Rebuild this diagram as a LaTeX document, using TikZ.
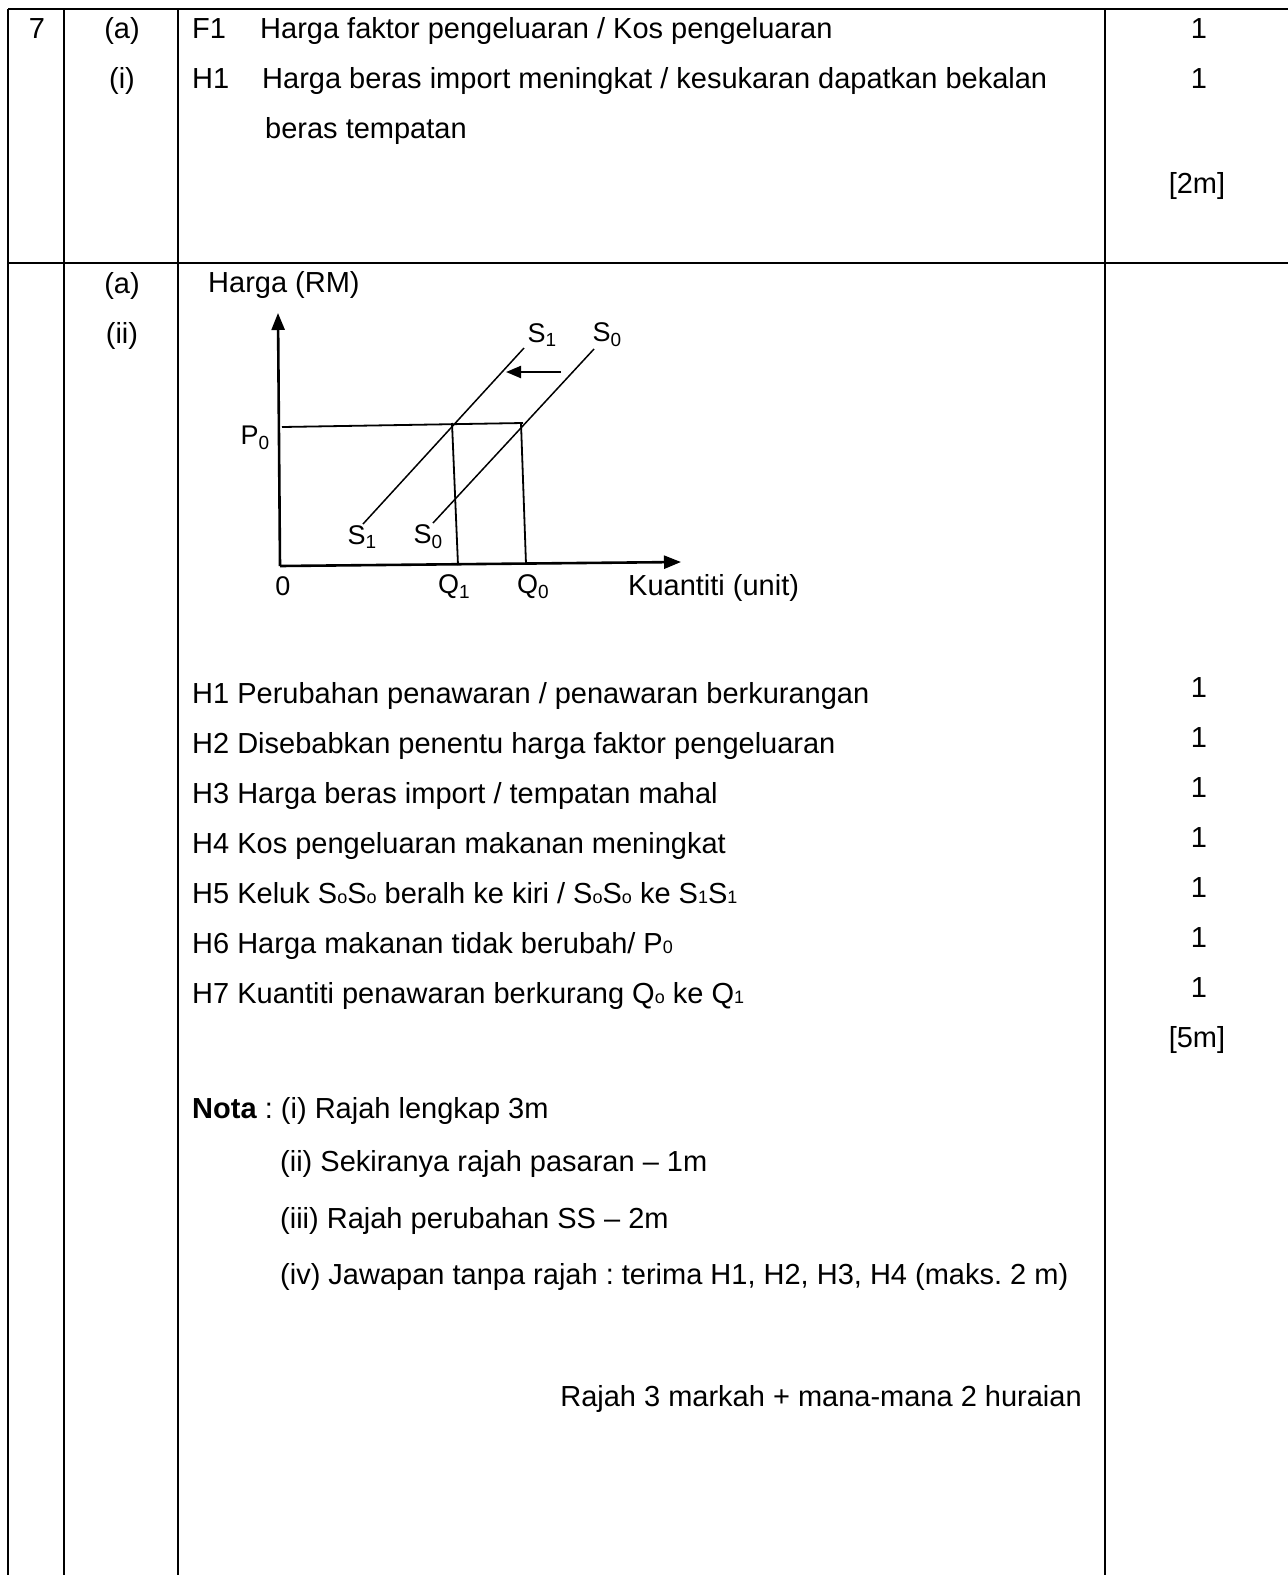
\documentclass[tikz,border=0pt]{standalone}
\usepackage{fontspec}
\setmainfont{Liberation Sans}
\usetikzlibrary{arrows.meta}
\frenchspacing
\newcommand{\lowsub}[1]{\raisebox{-0.18em}{\fontsize{19}{19}\selectfont #1}}
\newcommand{\smallch}[1]{{\fontsize{18}{18}\selectfont #1}}
\tikzset{
  txt/.style={inner sep=0pt, anchor=base west, font=\fontsize{29}{34}\selectfont},
  ctxt/.style={inner sep=0pt, anchor=base, font=\fontsize{29}{34}\selectfont},
  glab/.style={inner sep=0pt, anchor=center, font=\fontsize{27}{30}\selectfont},
  rule/.style={line width=2pt},
  axis/.style={line width=2.6pt, -{Triangle[length=17pt,width=13pt]}},
  curve/.style={line width=1.5pt},
  guide/.style={line width=1.8pt},
}
\begin{document}
\begin{tikzpicture}[x=1pt,y=-1pt]
\useasboundingbox (0,0) rectangle (1288,1575);
% table rules
\draw[rule] (8,9) -- (1288,9);
\draw[rule] (8,263) -- (1288,263);
\draw[rule] (8,9) -- (8,1575);
\draw[rule] (64,9) -- (64,1575);
\draw[rule] (178,9) -- (178,1575);
\draw[rule] (1105,9) -- (1105,1575);

% row 1
\node[ctxt] (q7) at (37,38) {7};
\node[ctxt] (a1) at (122,38) {(a)};
\node[ctxt] (i1) at (122,88) {(i)};
\node[txt] (f1) at (192,38) {F1};
\node[txt] (f1t) at (260,38) {Harga faktor pengeluaran / Kos pengeluaran};
\node[txt] (h1) at (192,88) {H1};
\node[txt] (h1t) at (262,88) {Harga beras import meningkat / kesukaran dapatkan bekalan};
\node[txt] (h1t2) at (265,138) {beras tempatan};
\node[ctxt] (m1) at (1199,38) {1};
\node[ctxt] (m2) at (1199,88) {1};
\node[ctxt] (m2m) at (1197,193) {[2m]};

% row 2 labels
\node[ctxt] (a2) at (122,293) {(a)};
\node[ctxt] (ii2) at (122,343) {(ii)};

% graph
\coordinate (O) at (280,566);
\coordinate (ytop) at (278,313);
\coordinate (xend) at (681,562);
\draw[axis] (O) -- (ytop);
\draw[axis] (O) -- (xend);
\coordinate (p0l) at (282,427);
\coordinate (e1) at (452,423);
\coordinate (e0) at (523,423);
\coordinate (q1b) at (458,565);
\coordinate (q0b) at (526,564);
\draw[guide] (p0l) -- (e0);
\draw[guide] (e1) -- (q1b);
\draw[guide] (521,423) -- (q0b);
\coordinate (s1lo) at (363,524);
\coordinate (s1hi) at (524,348);
\coordinate (s0lo) at (433,523);
\coordinate (s0hi) at (594,349);
\draw[curve] (s1lo) -- (s1hi);
\draw[curve] (s0lo) -- (s0hi);
\coordinate (arrs) at (561,372);
\coordinate (arre) at (506,372);
\draw[line width=2.2pt, -{Triangle[length=15pt,width=12pt]}] (arrs) -- (arre);

\node[txt] (hrm) at (208,292) {Harga (RM)};
\node[txt] (kun) at (628,595) {Kuantiti (unit)};
\node[glab] (ls1t) at (542,335) {S\lowsub{1}};
\node[glab] (ls0t) at (607,335) {S\lowsub{0}};
\node[glab] (ls1b) at (362,537) {S\lowsub{1}};
\node[glab] (ls0b) at (428,537) {S\lowsub{0}};
\node[glab] (lp0) at (255,438) {P\lowsub{0}};
\node[glab] (l0) at (283,586) {0};
\node[glab] (lq1) at (454,587) {Q\lowsub{1}};
\node[glab] (lq0) at (533,587) {Q\lowsub{0}};

% H list
\node[txt] (r1) at (192,703) {H1 Perubahan penawaran / penawaran berkurangan};
\node[txt] (r2) at (192,753) {H2 Disebabkan penentu harga faktor pengeluaran};
\node[txt] (r3) at (192,803) {H3 Harga beras import / tempatan mahal};
\node[txt] (r4) at (192,853) {H4 Kos pengeluaran makanan meningkat};
\node[txt] (r5) at (192,903) {H5 Keluk S\smallch{o}S\smallch{o} beralh ke kiri / S\smallch{o}S\smallch{o} ke S\smallch{1}S\smallch{1}};
\node[txt] (r6) at (192,953) {H6 Harga makanan tidak berubah/ P\smallch{0}};
\node[txt] (r7) at (192,1003) {H7 Kuantiti penawaran berkurang Q\smallch{o} ke Q\smallch{1}};
\foreach \k/\yy in {1/697,2/747,3/797,4/847,5/897,6/947,7/997}{
  \node[ctxt] (mk\k) at (1199,\yy) {1};
}
\node[ctxt] (m5m) at (1197,1047) {[5m]};

% notes
\node[txt] (nota) at (192,1118) {\textbf{Nota} : (i) Rajah lengkap 3m};
\node[txt] (n2) at (280,1171) {(ii) Sekiranya rajah pasaran -- 1m};
\node[txt] (n3) at (280,1228) {(iii) Rajah perubahan SS -- 2m};
\node[txt] (n4) at (280,1284) {(iv) Jawapan tanpa rajah : terima H1, H2, H3, H4 (maks. 2 m)};
\node[txt, anchor=base east] (sum) at (1082,1406) {Rajah 3 markah + mana-mana 2 huraian};
\end{tikzpicture}
\end{document}
